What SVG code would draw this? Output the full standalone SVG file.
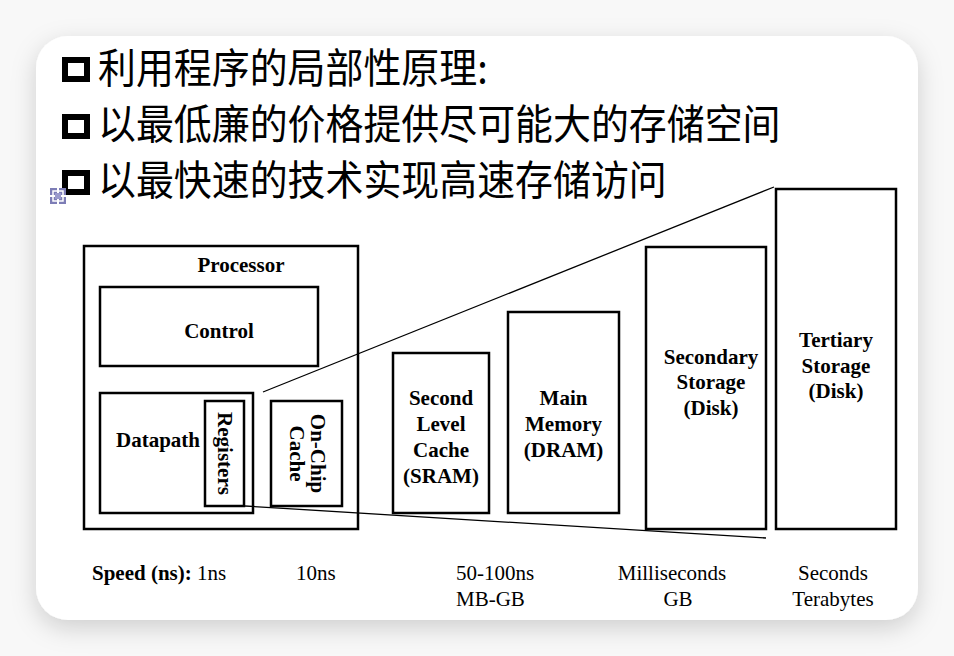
<svg xmlns="http://www.w3.org/2000/svg" width="954" height="656" viewBox="0 0 954 656">
  <defs>
    <filter id="cardShadow" x="-10%" y="-10%" width="120%" height="125%">
      <feDropShadow dx="0" dy="8" stdDeviation="12" flood-color="#000" flood-opacity="0.17"/>
    </filter>
    <style>
      .cjk { font-family: "Noto Sans CJK SC", "Noto Sans", sans-serif; font-size: 41px; font-weight: 400; fill: #000; }
      .bullet { fill: none; stroke: #000; stroke-width: 6; }
      .box { fill: none; stroke: #000; stroke-width: 2.5; }
      .lbl { font-family: "Liberation Serif", "DejaVu Serif", serif; font-weight: bold; font-size: 21px; fill: #000; text-anchor: middle; }
      .spd { font-family: "Liberation Serif", "DejaVu Serif", serif; font-size: 21px; fill: #000; }
      .wire { fill: none; stroke: #000; stroke-width: 1.3; }
    </style>
  </defs>

  <!-- page background and card -->
  <rect x="0" y="0" width="954" height="656" fill="#f8f8f8"/>
  <rect x="36" y="36" width="882" height="584" rx="32" ry="32" fill="#fff" filter="url(#cardShadow)"/>

  <!-- bullet list -->
  <g id="bullets">
    <rect class="bullet" x="65" y="60" width="22" height="19"/>
    <rect class="bullet" x="65" y="117" width="22" height="19"/>
    <rect class="bullet" x="65" y="173" width="22" height="19"/>
    <g transform="translate(98 0) scale(0.925 1)">
      <text class="cjk" x="0" y="83">利用程序的局部性原理:</text>
      <text class="cjk" x="0" y="139">以最低廉的价格提供尽可能大的存储空间</text>
      <text class="cjk" x="0" y="195">以最快速的技术实现高速存储访问</text>
    </g>
  </g>

  <!-- small handle icon -->
  <g id="handle">
    <rect x="50" y="188" width="16" height="16" fill="#7d7db6"/>
    <rect x="53" y="191" width="10" height="10" fill="none" stroke="#fff" stroke-width="1.5"/>
    <rect x="57" y="188" width="2" height="16" fill="#fff"/>
    <rect x="50" y="195" width="16" height="2" fill="#fff"/>
    <rect x="55" y="193" width="6" height="6" fill="#9a9acc"/>
  </g>

  <g id="processor">
    <rect class="box" x="84" y="246" width="274" height="283"/>
    <text class="lbl" x="241" y="272">Processor</text>
  </g>

  <g id="control">
    <rect class="box" x="100" y="287" width="218" height="79"/>
    <text class="lbl" x="219" y="338">Control</text>
  </g>

  <g id="datapath">
    <rect class="box" x="100" y="393" width="153" height="120"/>
    <text class="lbl" x="158" y="447">Datapath</text>
  </g>

  <g id="registers">
    <rect class="box" x="205" y="401" width="39" height="105"/>
    <text class="lbl" transform="translate(224.5 453.5) rotate(90)" x="0" y="7">Registers</text>
  </g>

  <g id="onchip-cache">
    <rect class="box" x="271" y="401" width="71" height="105"/>
    <text class="lbl" transform="translate(306.5 453.5) rotate(90)" x="0" y="-4">On-Chip</text>
    <text class="lbl" transform="translate(306.5 453.5) rotate(90)" x="0" y="17">Cache</text>
  </g>

  <g id="l2-cache">
    <rect class="box" x="393" y="353" width="96" height="160"/>
    <text class="lbl" x="441" y="405">Second</text>
    <text class="lbl" x="441" y="431">Level</text>
    <text class="lbl" x="441" y="457">Cache</text>
    <text class="lbl" x="441" y="483">(SRAM)</text>
  </g>

  <g id="main-memory">
    <rect class="box" x="508" y="312" width="111" height="201"/>
    <text class="lbl" x="563.5" y="405">Main</text>
    <text class="lbl" x="563.5" y="431">Memory</text>
    <text class="lbl" x="563.5" y="457">(DRAM)</text>
  </g>

  <g id="secondary-storage">
    <rect class="box" x="646" y="247" width="120" height="282"/>
    <text class="lbl" x="711" y="364">Secondary</text>
    <text class="lbl" x="711" y="389">Storage</text>
    <text class="lbl" x="711" y="415">(Disk)</text>
  </g>

  <g id="tertiary-storage">
    <rect class="box" x="776" y="189" width="120" height="340"/>
    <text class="lbl" x="836" y="347">Tertiary</text>
    <text class="lbl" x="836" y="373">Storage</text>
    <text class="lbl" x="836" y="398">(Disk)</text>
  </g>

  <!-- connectors: zoom lines fanning out from the registers to the storage levels -->
  <g id="connectors">
    <line class="wire" x1="263" y1="392" x2="774" y2="187"/>
    <line class="wire" x1="245" y1="506" x2="766" y2="538"/>
  </g>

  <!-- speed / capacity scale -->
  <g id="scale">
    <text class="spd" x="92" y="580" font-weight="bold">Speed (ns):</text>
    <text class="spd" x="197" y="580">1ns</text>
    <text class="spd" x="296" y="580">10ns</text>
    <text class="spd" x="456" y="580">50-100ns</text>
    <text class="spd" x="456" y="606">MB-GB</text>
    <text class="spd" x="672" y="580" text-anchor="middle">Milliseconds</text>
    <text class="spd" x="678" y="606" text-anchor="middle">GB</text>
    <text class="spd" x="833" y="580" text-anchor="middle">Seconds</text>
    <text class="spd" x="833" y="606" text-anchor="middle">Terabytes</text>
  </g>
</svg>
